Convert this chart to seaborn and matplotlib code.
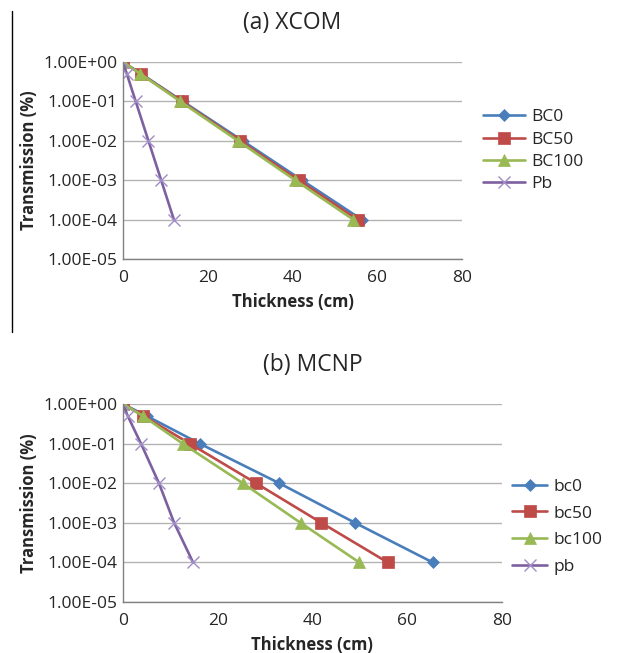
import numpy as np
import pandas as pd
import matplotlib
matplotlib.use("Agg")
import matplotlib.pyplot as plt
from matplotlib.ticker import FuncFormatter, NullLocator, FixedLocator
from matplotlib.lines import Line2D
import seaborn as sns

# transmission levels shared by every curve
transmission = [1.0, 0.5, 0.1, 0.01, 0.001, 0.0001]

# (a) XCOM thicknesses (cm)
xcom_bc0 = [0, 4.3, 14.1, 28.2, 42.2, 56.3]
xcom_bc50 = [0, 4.2, 13.8, 27.6, 41.4, 55.3]
xcom_bc100 = [0, 4.1, 13.5, 27.1, 40.6, 54.3]
xcom_pb = [0, 0.9, 3.0, 6.0, 9.0, 12.0]
xcom_names = ["BC0", "BC50", "BC100", "Pb"]

# (b) MCNP thicknesses (cm)
mcnp_bc0 = [0, 5.0, 16.2, 33.0, 49.0, 65.4]
mcnp_bc50 = [0, 4.3, 14.1, 28.1, 41.9, 55.9]
mcnp_bc100 = [0, 4.2, 12.6, 25.3, 37.5, 49.9]
mcnp_pb = [0, 1.0, 3.8, 7.6, 10.8, 14.8]
mcnp_names = ["bc0", "bc50", "bc100", "pb"]

colors = ["#4A7EBB", "#BE4B48", "#98B954", "#7D60A0"]


def build_frame(names, series):
    rows = []
    for name, xs in zip(names, series):
        for x, t in zip(xs, transmission):
            rows.append({"Series": name, "Thickness": x, "Transmission": t})
    return pd.DataFrame(rows)


def draw_panel(ax, df, names, title, spacing, anchor, handle_len):
    palette = dict(zip(names, colors))
    markers = dict(zip(names, ["D", "s", "^", "x"]))
    sizes = {names[0]: 6, names[1]: 8, names[2]: 8, names[3]: 9}
    for name in names:
        sub = df[df["Series"] == name]
        is_pb = name.lower() == "pb"
        sns.lineplot(data=sub, x="Thickness", y="Transmission", ax=ax, sort=False,
                     color=palette[name], marker=markers[name], markersize=sizes[name],
                     markeredgecolor="#A08CC8" if is_pb else palette[name],
                     markeredgewidth=1.0 if is_pb else 0.5,
                     linewidth=1.9, label=name, estimator=None)
    ax.set_yscale("log")
    ax.set_ylim(1e-5, 1.0)
    ax.set_xlim(0, 80)
    ax.yaxis.set_major_locator(FixedLocator([1e-5, 1e-4, 1e-3, 1e-2, 1e-1, 1.0]))
    ax.yaxis.set_minor_locator(NullLocator())
    ax.yaxis.set_major_formatter(FuncFormatter(lambda v, p: f"{v:.2E}"))
    ax.set_xticks([0, 20, 40, 60, 80])
    ax.grid(axis="y", color="#b3b3b3", linewidth=1.0)
    ax.grid(axis="x", visible=False)
    for side in ["top", "right"]:
        ax.spines[side].set_visible(False)
    for side in ["left", "bottom"]:
        ax.spines[side].set_color("#808080")
        ax.spines[side].set_linewidth(1.0)
    ax.tick_params(axis="x", length=0, labelsize=12.5, pad=8)
    ax.tick_params(axis="y", length=0, labelsize=12.5, pad=4)
    ax.set_xlabel("Thickness (cm)", fontsize=12, fontweight="bold", labelpad=5)
    ax.set_ylabel("Transmission (%)", fontsize=12, fontweight="bold", labelpad=4)
    ax.set_title(title, fontsize=16.5, pad=24)
    sns.move_legend(ax, "center left", bbox_to_anchor=anchor, frameon=False,
                    title=None, fontsize=12.5, handlelength=handle_len,
                    labelspacing=spacing, handletextpad=0.4, borderaxespad=0.2)


sns.set_style("white")
plt.rcParams["font.family"] = ["Open Sans", "DejaVu Sans"]

fig = plt.figure(figsize=(6.18, 6.53), dpi=100)
ax_top = fig.add_axes([0.199, 0.6034, 0.549, 0.3017])
ax_bot = fig.add_axes([0.199, 0.0781, 0.613, 0.3032])

df_xcom = build_frame(xcom_names, [xcom_bc0, xcom_bc50, xcom_bc100, xcom_pb])
df_mcnp = build_frame(mcnp_names, [mcnp_bc0, mcnp_bc50, mcnp_bc100, mcnp_pb])

draw_panel(ax_top, df_xcom, xcom_names, "(a) XCOM", 0.35, (1.03, 0.55), 2.4)
draw_panel(ax_bot, df_mcnp, mcnp_names, "(b) MCNP", 0.6, (1.0, 0.38), 2.0)

# thin separator line at the left edge of the upper panel
fig.add_artist(Line2D([11.5 / 618, 11.5 / 618], [1 - 11 / 653, 1 - 332 / 653],
                      color="black", linewidth=1.0))

fig.savefig("out.png", dpi=100)
